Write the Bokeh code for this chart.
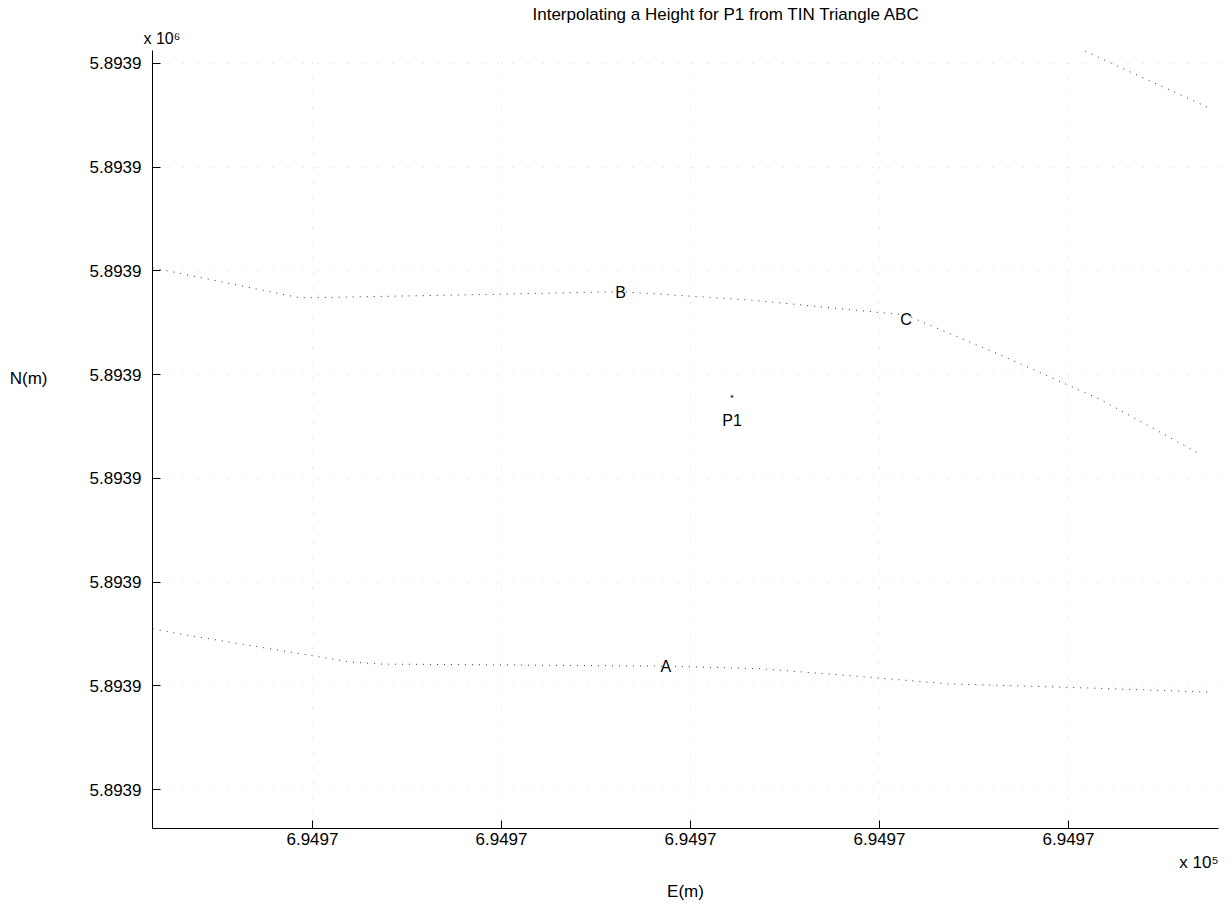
from bokeh.plotting import figure
from bokeh.models import (ColumnDataSource, FixedTicker, CustomJSTickFormatter, Range1d,
                          Title, LinearAxis)
from bokeh.embed import file_html
from bokeh.resources import INLINE
from bokeh.core.properties import value

# ---- data (E, N in metres) ----
x_ticks = [694970.2, 694970.4, 694970.6, 694970.8, 694971.0]
y_ticks = [5893925.0, 5893925.2, 5893925.4, 5893925.6, 5893925.8, 5893926.0, 5893926.2, 5893926.4]

pt_names = ["A", "B", "C", "P1"]
pt_E = [694970.574, 694970.526, 694970.828, 694970.644]
pt_N = [5893925.238, 5893925.958, 5893925.906, 5893925.758]

line1_E = [694970.031, 694970.187, 694970.367, 694970.526, 694970.663, 694970.828, 694970.928, 694971.034, 694971.140]
line1_N = [5893926.006, 5893925.948, 5893925.954, 5893925.960, 5893925.944, 5893925.915, 5893925.838, 5893925.752, 5893925.646]

line2_E = [694970.031, 694970.060, 694970.187, 694970.240, 694970.272, 694970.574, 694970.674, 694970.787, 694970.872, 694971.020, 694971.147]
line2_N = [5893925.310, 5893925.300, 5893925.262, 5893925.246, 5893925.242, 5893925.238, 5893925.233, 5893925.217, 5893925.204, 5893925.196, 5893925.188]

line3_E = [694970.984, 694971.066, 694971.148]
line3_N = [5893926.452, 5893926.383, 5893926.315]

title_text = "Interpolating a Height for P1 from TIN Triangle ABC"
x_label = "E(m)"
y_label = "N(m)"
y_label_at = 5893925.792
x_exp = "x 10\u2075"
y_exp = "x 10\u2076"

FONT = "Liberation Sans"

p = figure(width=1232, height=904, output_backend="svg", toolbar_location=None,
           x_range=Range1d(694970.0307, 694971.1587),
           y_range=Range1d(5893924.925, 5893926.425),
           min_border_left=152, min_border_right=14, min_border_top=50, min_border_bottom=74)
p.title.visible = False
p.outline_line_color = None
p.background_fill_color = "white"
p.border_fill_color = "white"

# axes
for ax in (p.xaxis[0], p.yaxis[0]):
    ax.major_tick_in = 8
    ax.major_tick_out = 0
    ax.minor_tick_line_color = None
    ax.axis_line_color = "black"
    ax.major_tick_line_color = "black"
    ax.major_label_text_font = FONT
    ax.major_label_text_font_size = "17px"
    ax.major_label_text_color = "black"

p.xaxis.ticker = FixedTicker(ticks=x_ticks)
p.yaxis.ticker = FixedTicker(ticks=y_ticks)
p.xaxis.formatter = CustomJSTickFormatter(code="return (tick/1e5).toFixed(4);")
p.yaxis.formatter = CustomJSTickFormatter(code="return (tick/1e6).toFixed(4);")
p.xaxis.major_label_standoff = 4
p.yaxis.major_label_standoff = 11

# horizontal y-axis label as an outer axis with a single labelled tick
ylab_axis = LinearAxis(ticker=FixedTicker(ticks=[y_label_at]),
                       formatter=CustomJSTickFormatter(code="return '%s';" % y_label),
                       axis_line_color=None, major_tick_line_color=None,
                       minor_tick_line_color=None, major_label_standoff=33,
                       major_label_text_font=FONT, major_label_text_font_size="17px",
                       major_label_text_color="black")
p.add_layout(ylab_axis, "left")

def mk_title(text, align, offset, standoff, size="16px"):
    return Title(text=text, align=align, offset=offset, standoff=standoff,
                 text_font=FONT, text_font_size=size, text_font_style="normal",
                 text_color="black")

# above: exponent (closest to frame), then title
p.add_layout(mk_title(y_exp, "left", -9, 8), "above")
p.add_layout(mk_title(title_text, "left", 380, 0, "17px"), "above")
# below: exponent, then axis label
p.add_layout(mk_title(x_exp, "right", 0, 7, "17px"), "below")
p.add_layout(mk_title(x_label, "center", 0, 8, "17px"), "below")

# faint dotted grid
for g in (p.xgrid[0], p.ygrid[0]):
    g.grid_line_color = "#888888"
    g.grid_line_alpha = 0.35
    g.grid_line_dash = "1 14"

# faint dotted TIN edges
for ex, ny in ((line1_E, line1_N), (line2_E, line2_N), (line3_E, line3_N)):
    p.line(ex, ny, line_color="#333333", line_width=1, line_dash="1 6")

# points and labels
src = ColumnDataSource(dict(E=pt_E, N=pt_N, name=pt_names, yoff=[0, 0, 0, 24]))
p.scatter(x=pt_E[3:], y=pt_N[3:], size=2, color="#555555")
p.text(x="E", y="N", text="name", source=src, y_offset="yoff",
       text_font=value(FONT), text_font_size="16px", text_align="center",
       text_baseline="middle", text_color="black")

open("out.html", "w").write(file_html(p, INLINE))
